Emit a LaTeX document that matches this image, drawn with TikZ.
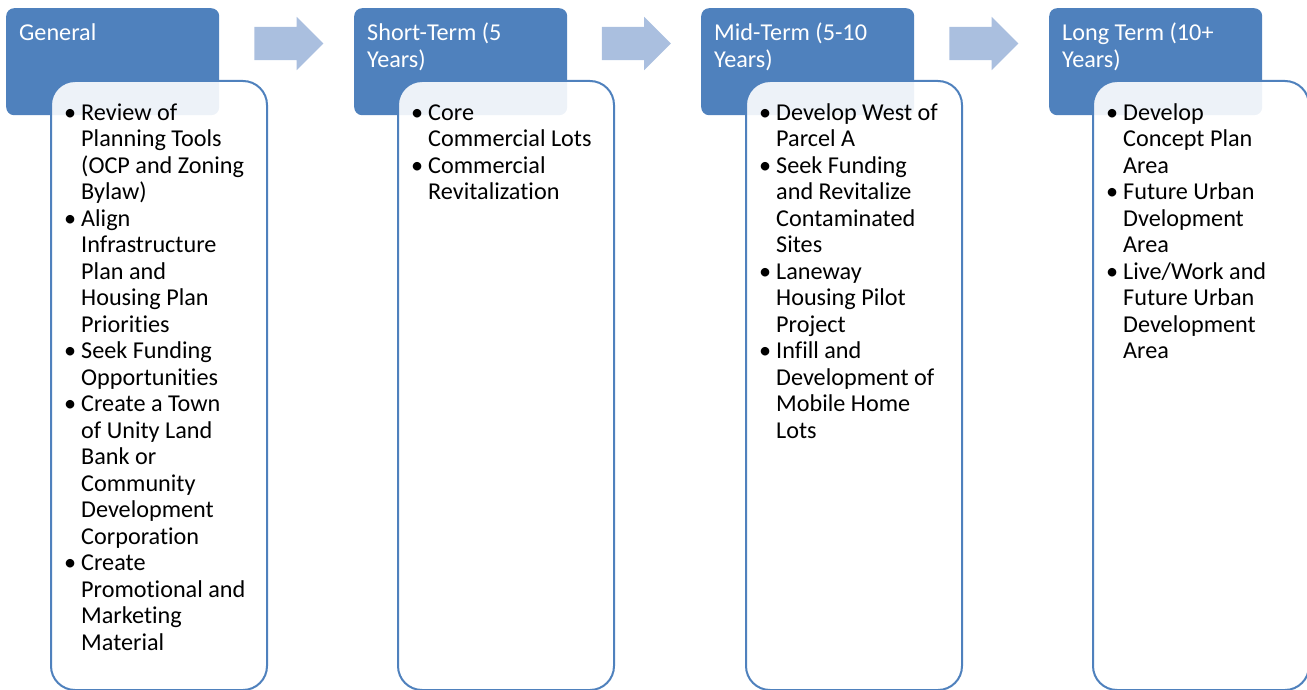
\documentclass[tikz,border=0pt]{standalone}
\usepackage{fontspec}
\setmainfont{Carlito}[Ligatures=NoCommon, Contextuals=NoAlternate]
\usetikzlibrary{shapes.arrows,positioning}

\definecolor{headblue}{HTML}{4F81BD}
\definecolor{flowblue}{HTML}{AABFDF}

\newcommand{\itemrows}[1]{\begin{tabular}{@{}p{17pt}@{}l@{}}#1\end{tabular}}
\newcommand{\headrows}[1]{\begin{tabular}{@{}l@{}}#1\end{tabular}}

\begin{document}
\begin{tikzpicture}[
  x=1pt, y=-1pt,
  font={\fontsize{24.2}{26.5}\selectfont},
  head/.style={fill=headblue, rounded corners=8pt, anchor=north west, minimum width=213pt, minimum height=107pt, inner sep=0pt},
  headtxt/.style={text=white, anchor=north west, inner sep=0pt, font={\fontsize{24.2}{27}\selectfont}},
  body/.style={draw=headblue, line width=2pt, fill=white, fill opacity=0.9, rounded corners=24pt, anchor=north west, minimum width=216pt, minimum height=609pt, inner sep=0pt},
  items/.style={anchor=north west, inner sep=0pt},
  flow/.style={single arrow, fill=flowblue, minimum height=69pt, inner sep=16.5pt, single arrow head extend=10pt}
]
\useasboundingbox (0,0) rectangle (1307,690);

% phase headers
\node[head] (h1) at (6,8) {};
\node[head] (h2) at (354,8) {};
\node[head] (h3) at (701,8) {};
\node[head] (h4) at (1049,8) {};

\node[headtxt] (t1) at ([shift={(13pt,-13pt)}]h1.north west) {\headrows{General}};
\node[headtxt] (t2) at ([shift={(13pt,-13pt)}]h2.north west) {\headrows{Short-Term (5\\Years)}};
\node[headtxt] (t3) at ([shift={(13pt,-13pt)}]h3.north west) {\headrows{Mid-Term (5-10\\Years)}};
\node[headtxt] (t4) at ([shift={(13pt,-13pt)}]h4.north west) {\headrows{Long Term (10+\\Years)}};

% flow arrows
\node[flow] (a1) at (280.5,43.5) {};
\node[flow] (a2) at (628,43.5) {};
\node[flow] (a3) at (975.5,43.5) {};

% task boxes
\node[body] (b1) at ([shift={(44pt,-72pt)}]h1.north west) {};
\node[body] (b2) at ([shift={(43pt,-72pt)}]h2.north west) {};
\node[body] (b3) at ([shift={(44pt,-72pt)}]h3.north west) {};
\node[body] (b4) at ([shift={(43pt,-72pt)}]h4.north west) {};

\node[items] (l1) at ([shift={(14pt,-21.5pt)}]b1.north west) {\itemrows{
  \textbullet & Review of\\ & Planning Tools\\ & (OCP and Zoning\\ & Bylaw)\\
  \textbullet & Align\\ & Infrastructure\\ & Plan and\\ & Housing Plan\\ & Priorities\\
  \textbullet & Seek Funding\\ & Opportunities\\
  \textbullet & Create a Town\\ & of Unity Land\\ & Bank or\\ & Community\\ & Development\\ & Corporation\\
  \textbullet & Create\\ & Promotional and\\ & Marketing\\ & Material}};
\node[items] (l2) at ([shift={(14pt,-21.5pt)}]b2.north west) {\itemrows{
  \textbullet & Core\\ & Commercial Lots\\
  \textbullet & Commercial\\ & Revitalization}};
\node[items] (l3) at ([shift={(14pt,-21.5pt)}]b3.north west) {\itemrows{
  \textbullet & Develop West of\\ & Parcel A\\
  \textbullet & Seek Funding\\ & and Revitalize\\ & Contaminated\\ & Sites\\
  \textbullet & Laneway\\ & Housing Pilot\\ & Project\\
  \textbullet & Infill and\\ & Development of\\ & Mobile Home\\ & Lots}};
\node[items] (l4) at ([shift={(14pt,-21.5pt)}]b4.north west) {\itemrows{
  \textbullet & Develop\\ & Concept Plan\\ & Area\\
  \textbullet & Future Urban\\ & Dvelopment\\ & Area\\
  \textbullet & Live/Work and\\ & Future Urban\\ & Development\\ & Area}};

\end{tikzpicture}
\end{document}
